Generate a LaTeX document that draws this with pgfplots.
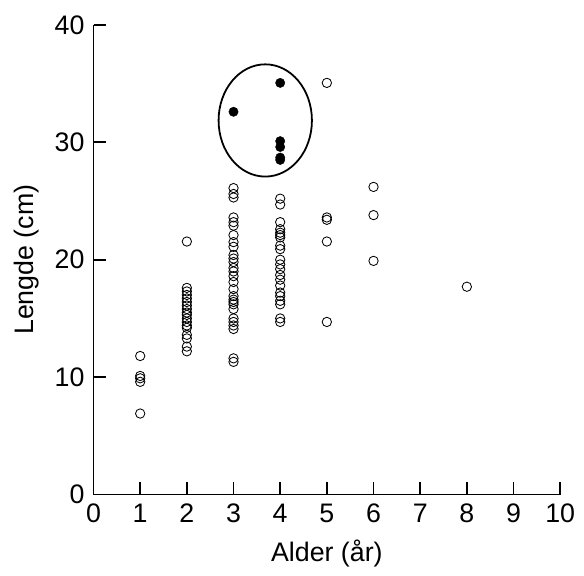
\documentclass[border=0pt]{standalone}
\usepackage{pgfplots}
\pgfplotsset{compat=1.18}
\usepackage{fontspec}
\setmainfont{Liberation Sans}
\begin{document}
\fontsize{27}{32}\selectfont
\begin{tikzpicture}[font=\fontsize{27}{32}\selectfont]
\begin{axis}[
  scale only axis,
  width=469bp, height=472bp,
  xmin=0, xmax=10, ymin=0, ymax=40,
  axis x line*=bottom, axis y line*=left,
  axis line style={line width=1.8pt},
  xtick={0,1,...,10}, ytick={0,10,20,30,40},
  tick align=inside,
  major tick length=13bp,
  tick style={line width=1.8pt, black},
  /pgf/number format/assume math mode=true,
  tick label style={font=\fontsize{27}{32}\selectfont},
  every axis label/.append style={font=\fontsize{27}{32}\selectfont},
  xlabel={Alder (år)}, ylabel={Lengde (cm)},
  xlabel style={yshift=1bp},
  ylabel style={yshift=-2bp},
  clip=false,
]
\path (axis cs:-2.004,-6.525) rectangle (axis cs:10.448,42.12);
\addplot[only marks, mark=o, mark size=4.7bp, mark options={line width=0.85pt, black}] coordinates {
(1,11.8) (1,10.1) (1,9.9) (1,9.6) (1,6.9)
(2,21.55) (2,17.6) (2,17.3) (2,17.0) (2,16.7) (2,16.4) (2,16.1) (2,15.8) (2,15.5) (2,15.3) (2,15.0) (2,14.7) (2,14.4) (2,14.2) (2,13.6) (2,13.3) (2,12.6) (2,12.2)
(3,26.1) (3,25.6) (3,25.3) (3,23.6) (3,23.2) (3,22.9) (3,22.1) (3,21.5) (3,21.1) (3,20.4) (3,20.1) (3,19.8) (3,19.3) (3,19.0) (3,18.6) (3,18.1) (3,17.5) (3,16.9) (3,16.6) (3,16.4) (3,16.2) (3,15.8) (3,15.0) (3,14.7) (3,14.4) (3,14.1) (3,11.6) (3,11.3)
(4,25.2) (4,24.7) (4,23.2) (4,22.6) (4,22.3) (4,22.1) (4,21.9) (4,21.2) (4,20.9) (4,20.0) (4,19.6) (4,19.2) (4,18.7) (4,18.3) (4,17.8) (4,17.2) (4,16.9) (4,16.5) (4,16.2) (4,15.0) (4,14.7)
(5,35.06) (5,23.6) (5,23.4) (5,21.55) (5,14.7)
(6,26.2) (6,23.8) (6,19.9)
(8,17.7)
};
\addplot[only marks, mark=*, mark size=4.7bp, mark options={black, fill=black}] coordinates {
(3,32.6) (4,35.06) (4,30.1) (4,29.6) (4,28.7) (4,28.5)
};
\draw[line width=1.8pt] (axis cs:3.68,31.86) ellipse [x radius=1.0, y radius=4.78];
\end{axis}
\end{tikzpicture}
\end{document}
